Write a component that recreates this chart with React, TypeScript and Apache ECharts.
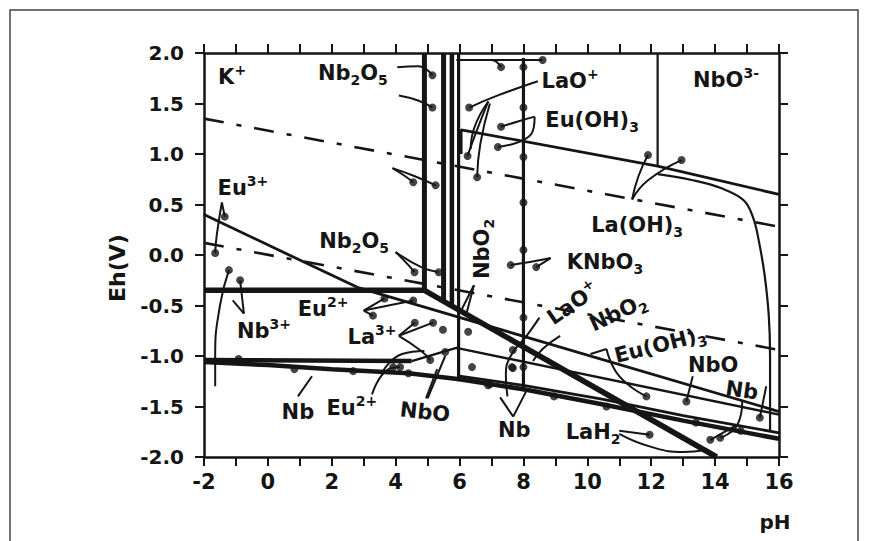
import React, { useEffect, useRef } from "react";
import * as echarts from "echarts";

// ---- axis ----
const X_MIN = -2, X_MAX = 16, X_STEP = 1;
const Y_MIN = -2, Y_MAX = 2, Y_STEP = 0.5;

// ---- boundary lines (pH, Eh) ----
const o2Line = [[-2, 1.35], [16, 0.28]];
const h2Line = [[-2, 0.12], [16, -0.94]];
const nbHoriz = [[-2, -0.35], [4.9, -0.35]];
const nbDiag = [[4.9, -0.35], [14.05, -2.0]];
const vert49 = [[4.9, 2], [4.9, -0.35]];
const vert55 = [[5.5, 2], [5.5, -0.46]];
const vert576 = [[5.76, 2], [5.76, -0.5]];
const vert597 = [[5.97, 2], [5.97, -1.25]];
const vert8 = [[8, 1.95], [8, -1.35]];
const vert122 = [[12.2, 2], [12.2, 0.88]];
const euOH3Upper = [[6.05, 1.0], [6.05, 1.24], [12.2, 0.88], [16, 0.6]];
const laOH3Curve = [[12.2, 0.8], [13.3, 0.74], [14.2, 0.66], [14.9, 0.54], [15.2, 0.36], [15.38, 0.12], [15.55, -0.2], [15.68, -0.6], [15.72, -1.0], [15.72, -1.75]];
const euLine = [[-2, 0.4], [2.8, -0.32], [16, -1.55]];
const lowHoriz = [[-2, -1.04], [4.5, -1.05]];
const nboLine = [[4.5, -1.05], [5.9, -0.92], [16, -1.58]];
const bandLower = [[-2, -1.06], [0, -1.09], [2, -1.13], [4.4, -1.17], [6, -1.23], [8, -1.33], [10.5, -1.48], [13, -1.64], [16, -1.82]];
const bandUpper = [[6, -1.2], [8, -1.29], [10.5, -1.43], [13, -1.59], [16, -1.76]];

// ---- pointer lines from labels (pH, Eh) ----
const pointers = [
  [[4.05, 1.86], [4.7, 1.87], [5.15, 1.78]],
  [[4.1, 1.58], [4.7, 1.53], [5.15, 1.46]],
  [[3.9, 0.86], [4.3, 0.78], [4.55, 0.72]],
  [[3.9, 0.86], [4.6, 0.78], [5.25, 0.69]],
  [[5.9, 1.93], [7.0, 1.93], [7.3, 1.86]],
  [[7.0, 1.93], [8.6, 1.93]],
  [[8.45, 1.72], [7.2, 1.58], [6.3, 1.46]],
  [[6.9, 1.52], [6.5, 1.2], [6.25, 0.98]],
  [[6.95, 1.5], [6.65, 1.1], [6.55, 0.77]],
  [[6.9, 1.52], [6.45, 1.25], [6.35, 1.05]],
  [[8.35, 1.37], [7.8, 1.32], [7.3, 1.27]],
  [[8.35, 1.37], [8.25, 1.2], [7.2, 1.07]],
  [[11.4, 0.55], [11.6, 0.78], [11.9, 0.99]],
  [[11.4, 0.55], [11.9, 0.74], [12.95, 0.94]],
  [[8.85, -0.03], [8.2, -0.07], [7.6, -0.1]],
  [[8.85, -0.03], [8.4, -0.12]],
  [[4.0, 0.03], [4.4, -0.1], [4.59, -0.17]],
  [[4.0, 0.03], [4.8, -0.12], [5.35, -0.17]],
  [[6.45, -0.3], [6.2, -0.6]],
  [[6.45, -0.3], [6.05, -0.55]],
  [[8.5, -0.62], [8.1, -0.8], [7.6, -1.0], [7.45, -1.2], [7.5, -1.4]],
  [[9.15, -0.8], [8.6, -0.93], [8.3, -1.05]],
  [[10.6, -0.93], [10.1, -0.98]],
  [[10.6, -0.93], [11.0, -1.2], [11.85, -1.4]],
  [[13.3, -1.2], [13.1, -1.45]],
  [[14.85, -1.45], [14.7, -1.68], [14.16, -1.81]],
  [[14.7, -1.68], [13.85, -1.83]],
  [[11.0, -1.74], [11.95, -1.78]],
  [[11.0, -1.77], [12.0, -1.9], [13.0, -1.95], [13.7, -1.93]],
  [[7.68, -1.6], [7.27, -1.41]],
  [[7.68, -1.6], [8.1, -1.34]],
  [[4.95, -1.42], [5.3, -1.13]],
  [[5.0, -1.42], [5.55, -1.0]],
  [[3.26, -1.38], [3.73, -1.14], [4.14, -1.11]],
  [[3.6, -1.15], [4.2, -0.98], [4.9, -0.95]],
  [[0.94, -1.4], [1.38, -1.2]],
  [[-1.44, 0.52], [-1.35, 0.38]],
  [[-1.44, 0.52], [-1.6, 0.2], [-1.65, 0.02]],
  [[-1.22, -0.15], [-1.5, -0.5], [-1.65, -1.0], [-1.65, -1.3]],
  [[-0.75, -0.58], [-0.87, -0.25]],
  [[-0.75, -0.58], [-1.1, -0.45]],
  [[3.0, -0.55], [3.29, -0.6]],
  [[3.0, -0.55], [3.65, -0.43]],
  [[3.0, -0.55], [4.55, -0.45]],
  [[4.1, -0.8], [4.6, -0.67]],
  [[4.1, -0.8], [5.17, -0.67]],
  [[4.1, -0.8], [4.8, -0.95], [5.08, -1.04]],
  [[15.6, -1.3], [15.4, -1.61]],
];

// ---- dots (pH, Eh) ----
const dotX = [8, 8, 8, 8, 8, 8, 8, 5.15, 5.15, 4.55, 5.25, 7.3, 8.6, 6.3, 6.25, 6.55, 7.3, 7.2, 11.9, 12.95, 7.6, 8.4, 4.59, 5.35, 7.64, 11.85, 13.1, 14.16, 13.85, 11.95, 4.14, -1.35, -1.65, -1.22, -0.87, 3.29, 3.65, 4.55, 4.6, 5.17, 5.08, 5.48, 6.27, 5.55, 6.39, 7.67, 7.67, 6.89, 3.92, -0.92, 0.83, 2.67, 4.4, 6.95, 8.96, 10.6, 13.4, 14.8, 15.4];
const dotY = [1.86, 1.46, 0.97, 0.52, 0.05, -0.62, -1.11, 1.78, 1.46, 0.72, 0.69, 1.86, 1.93, 1.46, 0.98, 0.77, 1.27, 1.07, 0.99, 0.94, -0.1, -0.12, -0.17, -0.17, -1.11, -1.4, -1.45, -1.81, -1.83, -1.78, -1.11, 0.38, 0.02, -0.15, -0.25, -0.6, -0.43, -0.45, -0.67, -0.67, -1.04, -0.74, -0.76, -0.96, -1.11, -0.94, -1.12, -1.29, -1.11, -1.03, -1.13, -1.15, -1.17, -1.28, -1.4, -1.5, -1.66, -1.74, -1.61];

// ---- region labels ( _n = subscript, ^x = superscript ) ----
const labelTexts = ["K^+", "Nb_2O_5", "LaO^+", "Eu(OH)_3", "NbO^3-", "La(OH)_3", "Eu^3+", "Nb_2O_5", "NbO_2", "KNbO_3", "LaO^+", "NbO_2", "Eu(OH)_3", "NbO", "Nb", "LaH_2", "Nb", "Eu^2+", "Nb^3+", "La^3+", "Nb", "Eu^2+", "NbO"];
const labelX = [-1.12, 2.66, 9.46, 10.15, 14.34, 11.56, -0.78, 2.7, 6.7, 10.55, 9.55, 10.96, 12.28, 13.94, 14.84, 10.18, 7.71, 1.73, -0.12, 3.26, 0.94, 2.63, 4.92];
const labelY = [1.76, 1.8, 1.72, 1.34, 1.73, 0.3, 0.66, 0.14, 0.06, -0.07, -0.48, -0.57, -0.89, -1.09, -1.34, -1.75, -1.73, -0.53, -0.75, -0.81, -1.55, -1.51, -1.55];
const labelRot = [0, 0, 0, 0, 0, 0, 0, 0, 90, 0, 35, 25, 14, 0, -8, 0, 0, 0, 0, 0, 0, 0, -6];

const INK = "#151515";
const FONT = "DejaVu Sans";

function toRich(s: string): string {
  let out = "";
  let i = 0;
  let buf = "";
  const flush = () => {
    if (buf) out += `{n|${buf}}`;
    buf = "";
  };
  while (i < s.length) {
    const c = s[i];
    if (c === "_") {
      flush();
      out += `{sub|${s[i + 1]}}`;
      i += 2;
    } else if (c === "^") {
      flush();
      let j = i + 1;
      let t = "";
      while (j < s.length && /[0-9+\-]/.test(s[j])) {
        t += s[j];
        j++;
      }
      out += `{sup|${t}}`;
      i = j;
    } else {
      buf += c;
      i++;
    }
  }
  flush();
  return out;
}

function lineSeries(data: number[][], width: number, extra: any = {}) {
  return {
    type: "line",
    data,
    showSymbol: false,
    symbol: "none",
    silent: true,
    lineStyle: { color: INK, width, ...(extra.lineStyle || {}) },
    smooth: extra.smooth || false,
    z: extra.z || 3,
  };
}

export default function App() {
  const ref = useRef<HTMLDivElement>(null);
  useEffect(() => {
    if (!ref.current) return;
    const chart = echarts.init(ref.current, undefined, { renderer: "svg" });
    const dashDot = [20, 13, 5, 13];
    const series: any[] = [
      lineSeries(o2Line, 2.6, { lineStyle: { type: dashDot } }),
      lineSeries(h2Line, 2.6, { lineStyle: { type: dashDot } }),
      lineSeries(nbHoriz, 5.5),
      lineSeries(nbDiag, 5.5),
      lineSeries(vert49, 5),
      lineSeries(vert55, 5),
      lineSeries(vert576, 4.5),
      lineSeries(vert597, 3.2),
      lineSeries(vert8, 3.2),
      lineSeries(vert122, 2.2),
      lineSeries(euOH3Upper, 2.8),
      lineSeries(laOH3Curve, 2.2, { smooth: 0.4 }),
      lineSeries(euLine, 2.8),
      lineSeries(lowHoriz, 4.5),
      lineSeries(nboLine, 2.4),
      lineSeries(bandLower, 4.5),
      lineSeries(bandUpper, 2.8),
    ];
    pointers.forEach((p) => series.push(lineSeries(p, 2, { smooth: 0.5, z: 4 })));
    series.push({
      type: "scatter",
      data: dotX.map((x, i) => [x, dotY[i]]),
      symbol: "circle",
      symbolSize: 8,
      itemStyle: { color: INK },
      silent: true,
      z: 5,
    });

    const axisLine = { show: true, onZero: false, lineStyle: { color: INK, width: 2.5 } };
    const axisTick = { show: true, inside: false, length: 9, lineStyle: { color: INK, width: 2 } };
    chart.setOption({
      animation: false,
      backgroundColor: "#ffffff",
      grid: { left: 204, top: 53, width: 575, height: 404, containLabel: false },
      xAxis: [
        {
          type: "value", min: X_MIN, max: X_MAX, interval: X_STEP, position: "bottom",
          axisLine, axisTick, splitLine: { show: false },
          axisLabel: {
            margin: 14, color: INK, fontSize: 21, fontWeight: "bold", fontFamily: FONT,
            formatter: (v: number) => (Math.round(v) % 2 === 0 ? String(v) : ""),
          },
        },
        {
          type: "value", min: X_MIN, max: X_MAX, interval: X_STEP, position: "top",
          axisLine, axisTick, splitLine: { show: false }, axisLabel: { show: false },
        },
      ],
      yAxis: [
        {
          type: "value", min: Y_MIN, max: Y_MAX, interval: Y_STEP, position: "left",
          axisLine, axisTick, splitLine: { show: false },
          axisLabel: {
            margin: 20, color: INK, fontSize: 20, fontWeight: "bold", fontFamily: FONT,
            formatter: (v: number) => v.toFixed(1),
          },
        },
        {
          type: "value", min: Y_MIN, max: Y_MAX, interval: Y_STEP, position: "right",
          axisLine, axisTick, splitLine: { show: false }, axisLabel: { show: false },
        },
      ],
      series,
    });

    const base = { fontFamily: FONT, fontWeight: "bold", fill: INK };
    const rich = {
      n: { ...base, fontSize: 21, lineHeight: 28 },
      sub: { ...base, fontSize: 14, lineHeight: 14, verticalAlign: "bottom" },
      sup: { ...base, fontSize: 14, lineHeight: 16, verticalAlign: "top" },
    };
    const labelGraphics = labelTexts.map((t, i) => {
      const p = chart.convertToPixel({ xAxisIndex: 0, yAxisIndex: 0 }, [labelX[i], labelY[i]]) as number[];
      return {
        type: "text",
        x: p[0],
        y: p[1],
        rotation: (labelRot[i] * Math.PI) / 180,
        silent: true,
        z: 10,
        style: { text: toRich(t), rich, fill: INK, font: `bold 21px "${FONT}"`, align: "center", verticalAlign: "middle" },
      };
    });
    chart.setOption({
      graphic: [
        { type: "rect", shape: { x: 10, y: 10, width: 848, height: 600 }, style: { fill: "none", stroke: "#444", lineWidth: 1.5 }, silent: true },
        { type: "text", x: 117, y: 268, rotation: Math.PI / 2, silent: true, style: { text: "Eh(V)", fill: INK, font: `bold 22px "${FONT}"`, align: "center", verticalAlign: "middle" } },
        { type: "text", x: 775, y: 522, silent: true, style: { text: "pH", fill: INK, font: `bold 20px "${FONT}"`, align: "center", verticalAlign: "middle" } },
        ...labelGraphics,
      ],
    });
    return () => chart.dispose();
  }, []);
  return (
    <div
      ref={ref}
      style={{ position: "fixed", left: 0, top: 0, width: 873, height: 541, background: "#fff" }}
    />
  );
}
